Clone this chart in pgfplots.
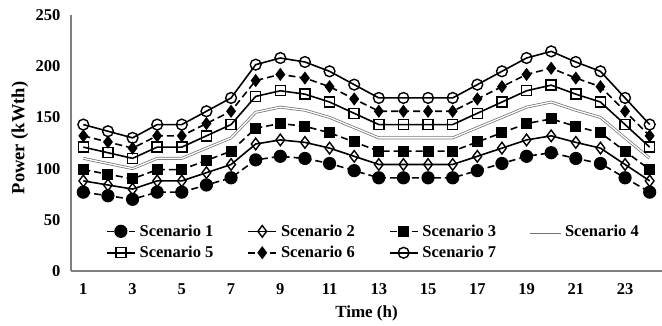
\documentclass[border=0pt]{standalone}
\usepackage{fontspec}
\setmainfont{Liberation Serif}
\usepackage{pgfplots}
\pgfplotsset{compat=1.18}
\usepackage{pgfplotstable}

\pgfplotstableread{
h s1 s2 s3 s4 s5 s6 s7
1 77 88 99 110 121 132 143
2 73.5 84 94.5 105 115.5 126 136.5
3 70 80 90 100 110 120 130
4 77 88 99 110 121 132 143
5 77 88 99 110 121 132 143
6 84 96 108 120 132 144 156
7 91 104 117 130 143 156 169
8 108.5 124 139.5 155 170.5 186 201.5
9 112 128 144 160 176 192 208
10 109.9 125.6 141.3 157 172.7 188.4 204.1
11 105 120 135 150 165 180 195
12 98 112 126 140 154 168 182
13 91 104 117 130 143 156 169
14 91 104 117 130 143 156 169
15 91 104 117 130 143 156 169
16 91 104 117 130 143 156 169
17 98 112 126 140 154 168 182
18 105 120 135 150 165 180 195
19 112 128 144 160 176 192 208
20 115.5 132 148.5 165 181.5 198 214.5
21 109.9 125.6 141.3 157 172.7 188.4 204.1
22 105 120 135 150 165 180 195
23 91 104 117 130 143 156 169
24 77 88 99 110 121 132 143
}\data

\begin{document}
\begin{tikzpicture}
\begin{axis}[
  at={(0,0)}, anchor=south west,
  scale only axis, width=591pt, height=256pt,
  xmin=0.5, xmax=24.5, ymin=0, ymax=250,
  xtick={1,3,...,23}, ytick={0,50,...,250},
  axis x line*=bottom, axis y line*=left,
  axis line style={draw=black!50, line width=1.3pt, -},
  major tick length=0pt,
  tick label style={font=\fontsize{16.5}{19}\selectfont\bfseries},
  /pgf/number format/assume math mode=true,
  yticklabel style={xshift=-7pt},
  xticklabel style={yshift=-9pt},
  xlabel={Time (h)}, ylabel={Power (kWth)},
  xlabel style={font=\fontsize{17}{19}\selectfont\bfseries, at={(axis description cs:0.5,-0.164)}, anchor=center},
  ylabel style={font=\fontsize{18.5}{21}\selectfont\bfseries, at={(axis description cs:-0.0863,0.52)}, anchor=center},
  legend style={draw=none, fill=none, inner sep=0pt,
    at={(axis description cs:0.059,0.185)}, anchor=north west,
    font=\fontsize{16.5}{19}\selectfont\bfseries,
    nodes={inner sep=1pt},
    /tikz/every odd column/.append style={column sep=3pt},
    /tikz/every even column/.append style={column sep=33pt},
    row sep=6.5pt},
  legend columns=4,
  legend cell align=left,
  legend image code/.code={\draw[mark repeat=2,mark phase=2,#1] plot coordinates {(0pt,0pt) (14pt,0pt) (28pt,0pt)};},
  every axis plot/.append style={line width=1.6pt},
  clip=false,
]
\addplot[black, dash pattern=on 7pt off 4pt, mark=*, mark size=5.8pt, mark options={solid}] table[x=h,y=s1] {\data};
\addlegendentry{Scenario 1}
\addplot[black, mark=diamond, mark size=5.8pt, mark options={solid, fill=white, line width=1.4pt}] table[x=h,y=s2] {\data};
\addlegendentry{Scenario 2}
\addplot[black, dash pattern=on 7pt off 4pt, mark=square*, mark size=4.7pt, mark options={solid}] table[x=h,y=s3] {\data};
\addlegendentry{Scenario 3}
\addplot[black!55, line width=2.8pt, forget plot] table[x=h,y=s4] {\data};
\addplot[white, line width=1.3pt, forget plot] table[x=h,y=s4] {\data};
\addlegendimage{black!55, line width=2.8pt, mark=none, solid,
  legend image code/.code={\path[draw=none, fill=none] (0pt,-5pt) rectangle (28pt,5pt); \fill[black!55] (0pt,-1.4pt) rectangle (28pt,1.4pt); \fill[white] (0pt,-0.6pt) rectangle (28pt,0.6pt);}}
\addlegendentry{Scenario 4}
\addplot[black, mark=square, mark size=5pt, mark options={solid, fill=white, line width=1.4pt}] table[x=h,y=s5] {\data};
\addlegendentry{Scenario 5}
\addplot[black, dash pattern=on 7pt off 4pt, mark=diamond*, mark size=5.3pt, mark options={solid}] table[x=h,y=s6] {\data};
\addlegendentry{Scenario 6}
\addplot[black, mark=o, mark size=5.4pt, mark options={solid, fill=white, line width=1.4pt}] table[x=h,y=s7] {\data};
\addlegendentry{Scenario 7}
\end{axis}
\pgfresetboundingbox
\useasboundingbox (-71pt,-55pt) rectangle (591pt,271pt);
\end{tikzpicture}
\end{document}
